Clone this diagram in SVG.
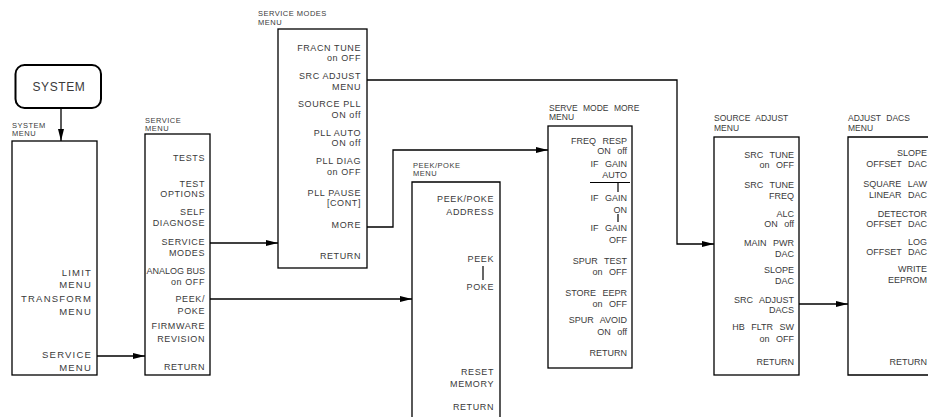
<svg xmlns="http://www.w3.org/2000/svg" width="928" height="417" viewBox="0 0 928 417">
<defs>
<marker id="ah" markerWidth="12" markerHeight="8" refX="12" refY="4" orient="auto" markerUnits="userSpaceOnUse">
<path d="M0,1 L12,4 L0,7 Z" fill="#000"/>
</marker>
</defs>
<style>
.box{fill:#fff;stroke:#000;stroke-width:1.3}
.t{font-family:"Liberation Sans",Arial,sans-serif;font-size:9px;fill:#3a3a3a;text-anchor:end;letter-spacing:0.6px}
.w{letter-spacing:1.2px;font-size:9.5px}
.u{font-family:"Liberation Sans",Arial,sans-serif;font-size:9px;fill:#3a3a3a;text-anchor:end;word-spacing:4px}
.l{font-family:"Liberation Sans",Arial,sans-serif;font-size:7.5px;fill:#3a3a3a;letter-spacing:0.5px}
.lu{font-family:"Liberation Sans",Arial,sans-serif;font-size:8.5px;fill:#3a3a3a;word-spacing:3px}
.c{fill:none;stroke:#000;stroke-width:1.3}
.thin{stroke:#000;stroke-width:1.2}
</style>
<g id="system">
<rect x="15.5" y="65" width="85.5" height="43" rx="9" fill="#fff" stroke="#000" stroke-width="2"/>
<text x="59" y="91" font-family="'Liberation Sans',Arial,sans-serif" font-size="12" fill="#3a3a3a" text-anchor="middle" letter-spacing="0.6">SYSTEM</text>
</g>
<g id="system-menu">
<text class="l" x="12" y="128">SYSTEM</text>
<text class="l" x="12" y="136">MENU</text>
<rect class="box" x="12" y="141" width="85" height="234"/>
<text class="t w" x="92" y="276">LIMIT</text>
<text class="t w" x="92" y="288">MENU</text>
<text class="t w" x="92" y="302">TRANSFORM</text>
<text class="t w" x="92" y="315">MENU</text>
<text class="t w" x="92" y="358">SERVICE</text>
<text class="t w" x="92" y="371">MENU</text>
</g>
<g id="service-menu">
<text class="l" x="145" y="123">SERVICE</text>
<text class="l" x="145" y="131">MENU</text>
<rect class="box" x="145" y="134" width="65" height="241"/>
<text class="t" x="205" y="161">TESTS</text>
<text class="t" x="205" y="187">TEST</text>
<text class="t" x="205" y="197">OPTIONS</text>
<text class="t" x="205" y="215">SELF</text>
<text class="t" x="205" y="226">DIAGNOSE</text>
<text class="t" x="205" y="245">SERVICE</text>
<text class="t" x="205" y="256">MODES</text>
<text class="t" x="205" y="274" style="letter-spacing:0">ANALOG BUS</text>
<text class="t" x="205" y="285">on OFF</text>
<text class="t" x="205" y="302">PEEK/</text>
<text class="t" x="205" y="314">POKE</text>
<text class="t" x="205" y="329">FIRMWARE</text>
<text class="t" x="205" y="342">REVISION</text>
<text class="t" x="205" y="370">RETURN</text>
</g>
<g id="service-modes-menu">
<text class="l" x="258" y="16">SERVICE MODES</text>
<text class="l" x="258" y="25">MENU</text>
<rect class="box" x="278" y="29" width="89" height="239"/>
<text class="t" x="361" y="51">FRACN TUNE</text>
<text class="t" x="361" y="61">on OFF</text>
<text class="t" x="361" y="79">SRC ADJUST</text>
<text class="t" x="361" y="90">MENU</text>
<text class="t" x="361" y="107">SOURCE PLL</text>
<text class="t" x="361" y="118">ON off</text>
<text class="t" x="361" y="136">PLL AUTO</text>
<text class="t" x="361" y="146">ON off</text>
<text class="t" x="361" y="164">PLL DIAG</text>
<text class="t" x="361" y="175">on OFF</text>
<text class="t" x="361" y="196">PLL PAUSE</text>
<text class="t" x="361" y="206">[CONT]</text>
<text class="t" x="361" y="228">MORE</text>
<text class="t" x="361" y="259">RETURN</text>
</g>
<g id="peek-poke-menu">
<text class="l" x="413" y="168">PEEK/POKE</text>
<text class="l" x="413" y="176">MENU</text>
<path class="c" d="M412,417 V182 H500 V417" fill="#fff"/>
<text class="t" x="494" y="202">PEEK/POKE</text>
<text class="t" x="494" y="215">ADDRESS</text>
<text class="t" x="494" y="262">PEEK</text>
<line class="thin" x1="483" y1="266" x2="483" y2="280"/>
<text class="t" x="494" y="290">POKE</text>
<text class="t" x="494" y="375">RESET</text>
<text class="t" x="494" y="387">MEMORY</text>
<text class="t" x="494" y="410">RETURN</text>
</g>
<g id="serve-mode-more-menu">
<text class="lu" x="549" y="111">SERVE  MODE  MORE</text>
<text class="lu" x="549" y="120">MENU</text>
<rect class="box" x="548" y="126" width="84" height="242"/>
<text class="u" x="627" y="144">FREQ RESP</text>
<text class="u" x="627" y="154">ON off</text>
<text class="u" x="627" y="167">IF GAIN</text>
<text class="u" x="627" y="178">AUTO</text>
<line class="thin" x1="590" y1="182.5" x2="630" y2="182.5"/>
<line class="thin" x1="618" y1="182" x2="618" y2="192"/>
<text class="u" x="627" y="201">IF GAIN</text>
<text class="u" x="627" y="213">ON</text>
<line class="thin" x1="618" y1="214" x2="618" y2="222"/>
<text class="u" x="627" y="231">IF GAIN</text>
<text class="u" x="627" y="243">OFF</text>
<text class="u" x="627" y="264">SPUR TEST</text>
<text class="u" x="627" y="275">on OFF</text>
<text class="u" x="627" y="296">STORE EEPR</text>
<text class="u" x="627" y="307">on OFF</text>
<text class="u" x="627" y="323">SPUR AVOID</text>
<text class="u" x="627" y="335">ON off</text>
<text class="u" x="627" y="356">RETURN</text>
</g>
<g id="source-adjust-menu">
<text class="lu" x="714" y="121">SOURCE  ADJUST</text>
<text class="lu" x="714" y="131">MENU</text>
<rect class="box" x="714" y="137" width="85" height="238"/>
<text class="u" x="794" y="158">SRC TUNE</text>
<text class="u" x="794" y="168">on OFF</text>
<text class="u" x="794" y="188">SRC TUNE</text>
<text class="u" x="794" y="199">FREQ</text>
<text class="u" x="794" y="217">ALC</text>
<text class="u" x="794" y="227">ON off</text>
<text class="u" x="794" y="246">MAIN PWR</text>
<text class="u" x="794" y="257">DAC</text>
<text class="u" x="794" y="273">SLOPE</text>
<text class="u" x="794" y="284">DAC</text>
<text class="u" x="794" y="303">SRC ADJUST</text>
<text class="u" x="794" y="313">DACS</text>
<text class="u" x="794" y="330">HB FLTR SW</text>
<text class="u" x="794" y="342">on OFF</text>
<text class="u" x="794" y="365">RETURN</text>
</g>
<g id="adjust-dacs-menu">
<text class="lu" x="848" y="121">ADJUST  DACS</text>
<text class="lu" x="848" y="131">MENU</text>
<path class="c" d="M935,137 H848 V375 H935" fill="#fff"/>
<text class="u" x="927" y="156">SLOPE</text>
<text class="u" x="927" y="167">OFFSET DAC</text>
<text class="u" x="927" y="187">SQUARE LAW</text>
<text class="u" x="927" y="198">LINEAR DAC</text>
<text class="u" x="927" y="217">DETECTOR</text>
<text class="u" x="927" y="227">OFFSET DAC</text>
<text class="u" x="927" y="245">LOG</text>
<text class="u" x="927" y="255">OFFSET DAC</text>
<text class="u" x="927" y="272">WRITE</text>
<text class="u" x="927" y="283">EEPROM</text>
<text class="u" x="927" y="365">RETURN</text>
</g>
<g id="connectors">
<line class="c" x1="61" y1="108" x2="61" y2="141" marker-end="url(#ah)"/>
<line class="c" x1="97" y1="356" x2="145" y2="356" marker-end="url(#ah)"/>
<line class="c" x1="210" y1="243" x2="278" y2="243" marker-end="url(#ah)"/>
<line class="c" x1="210" y1="299" x2="412" y2="299" marker-end="url(#ah)"/>
<path class="c" d="M367,80 H677 V244 H714" marker-end="url(#ah)"/>
<path class="c" d="M367,227 H393 V150 H548" marker-end="url(#ah)"/>
<line class="c" x1="799" y1="304" x2="848" y2="304" marker-end="url(#ah)"/>
</g>
</svg>
